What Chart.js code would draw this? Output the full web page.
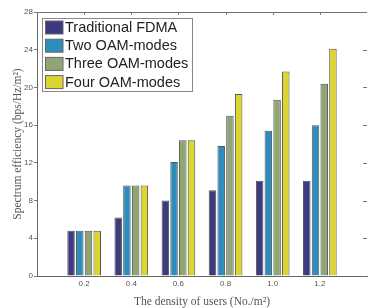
<!DOCTYPE html>
<html>
<head>
<meta charset="utf-8">
<script src="https://cdn.jsdelivr.net/npm/chart.js@4.4.1/dist/chart.umd.min.js"></script>
<style>
html,body{margin:0;padding:0;background:#fff;}
#wrap{width:370px;height:308px;position:relative;}
</style>
</head>
<body>
<div id="wrap"><canvas id="c" width="370" height="308"></canvas></div>
<script>
const densities = [0.2, 0.4, 0.6, 0.8, 1.0, 1.2];
const seriesNames = ['Traditional FDMA', 'Two OAM-modes', 'Three OAM-modes', 'Four OAM-modes'];
const fdma = [4.8, 6.2, 8.0, 9.1, 10.1, 10.1];
const twoOAM = [4.8, 9.6, 12.1, 13.8, 15.4, 16.0];
const threeOAM = [4.8, 9.6, 14.4, 17.0, 18.7, 20.4];
const fourOAM = [4.8, 9.6, 14.4, 19.3, 21.7, 24.1];
const yTicks = [0, 4, 8, 12, 16, 20, 24, 28];

const colors = ['#3d3b80', '#2d8ebe', '#8fa573', '#dcd42f'];
const seriesValues = [fdma, twoOAM, threeOAM, fourOAM];

const datasets = seriesNames.map((name, i) => ({
  label: name,
  data: densities.map((d, j) => ({x: d, y: seriesValues[i][j]})),
  backgroundColor: colors[i],
  borderColor: '#555',
  borderWidth: 1,
  categoryPercentage: 0.74,
  barPercentage: 0.86
}));

const frameAndLegend = {
  id: 'frameAndLegend',
  afterDraw(chart) {
    const ctx = chart.ctx;
    const a = chart.chartArea;
    const xs = chart.scales.x, ys = chart.scales.y;
    ctx.save();
    ctx.strokeStyle = '#777';
    ctx.lineWidth = 1;
    // top frame line
    ctx.beginPath();
    ctx.moveTo(a.left, Math.round(a.top) + 0.5);
    ctx.lineTo(a.right, Math.round(a.top) + 0.5);
    ctx.stroke();
    // top inward ticks
    densities.forEach(d => {
      const px = Math.round(xs.getPixelForValue(d)) + 0.5;
      ctx.beginPath();
      ctx.moveTo(px, a.top);
      ctx.lineTo(px, a.top + 3);
      ctx.stroke();
    });
    // right inward ticks
    yTicks.forEach(v => {
      const py = Math.round(ys.getPixelForValue(v)) + 0.5;
      ctx.beginPath();
      ctx.moveTo(a.right - 4, py);
      ctx.lineTo(a.right, py);
      ctx.stroke();
    });
    // legend
    const bx = 42.5, by = 18.5, bw = 150, bh = 73;
    ctx.fillStyle = '#fff';
    ctx.fillRect(bx, by, bw, bh);
    ctx.strokeStyle = '#888';
    ctx.strokeRect(bx, by, bw, bh);
    ctx.font = '14.5px "Liberation Sans", Arial, sans-serif';
    ctx.textBaseline = 'middle';
    ctx.textAlign = 'left';
    chart.data.datasets.forEach((ds, i) => {
      const cy = 27.5 + i * 18.2;
      ctx.fillStyle = ds.backgroundColor;
      ctx.fillRect(45, cy - 6.5, 18, 13);
      ctx.strokeStyle = '#666';
      ctx.strokeRect(45.5, cy - 6.5, 17.5, 13);
      ctx.fillStyle = '#222';
      ctx.fillText(ds.label, 65, cy + 0.5);
    });
    ctx.restore();
  }
};

new Chart(document.getElementById('c'), {
  type: 'bar',
  data: { datasets },
  options: {
    responsive: false,
    animation: false,
    devicePixelRatio: 1,
    layout: { padding: { top: 12, right: 0, left: 0, bottom: 0 } },
    plugins: { legend: { display: false }, tooltip: { enabled: false } },
    scales: {
      x: {
        type: 'linear',
        min: 0,
        max: 1.4,
        offset: false,
        grid: { display: true, offset: false, drawOnChartArea: false, drawTicks: false, color: '#777' },
        border: { color: '#666', width: 1 },
        ticks: {
          stepSize: 0.2,
          padding: 3,
          color: '#555',
          font: { size: 8, family: 'Arial, "Liberation Sans", sans-serif' },
          callback: (v) => {
            const r = Math.round(v * 10) / 10;
            return densities.some(d => Math.abs(d - r) < 1e-6) ? r.toFixed(1) : '';
          }
        },
        title: {
          display: true,
          text: 'The density of users (No./m²)',
          color: '#555',
          font: { size: 11.5, family: '"Liberation Serif", "Times New Roman", serif', lineHeight: 1.1 },
          padding: { top: 0, bottom: 0 }
        },
        afterFit: (s) => { s.height = 32; }
      },
      y: {
        min: 0,
        max: 28,
        grid: { display: true, drawOnChartArea: false, drawTicks: true, tickLength: 3, color: '#777' },
        border: { color: '#666', width: 1 },
        afterBuildTicks: (s) => { s.ticks = yTicks.map(v => ({ value: v })); },
        ticks: {
          padding: 1,
          color: '#555',
          font: { size: 8, family: 'Arial, "Liberation Sans", sans-serif' }
        },
        title: {
          display: true,
          text: 'Spectrum efficiency (bps/Hz/m²)',
          color: '#555',
          font: { size: 11.5, family: '"Liberation Serif", "Times New Roman", serif', lineHeight: 1.2 },
          padding: { top: 11, bottom: 0 }
        },
        afterFit: (s) => { s.width = 37; }
      }
    }
  },
  plugins: [frameAndLegend]
});
</script>
</body>
</html>
